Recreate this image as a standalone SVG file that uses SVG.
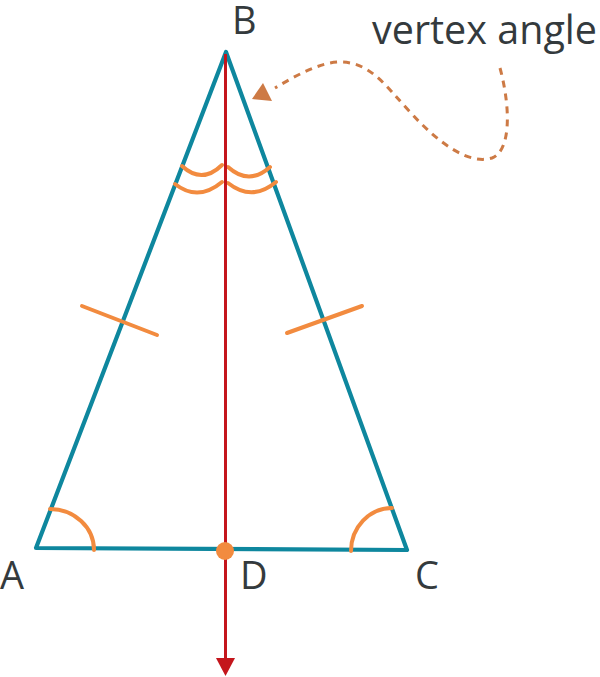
<svg xmlns="http://www.w3.org/2000/svg" width="600" height="677" viewBox="0 0 600 677">
<style>
.lbl{font-family:"Open Sans","Liberation Sans",sans-serif;font-size:38px;fill:#343a3d}
.side{fill:none;stroke:#0e879e;stroke-width:4.2;stroke-linejoin:round;stroke-linecap:round}
.mark{fill:none;stroke:#f28b3f;stroke-width:4;stroke-linecap:round}
</style>
<rect width="600" height="677" fill="#ffffff"/>
<g id="triangle">
<path class="side" d="M36,548 L226,52 L407,550 Z"/>
</g>
<g id="marks">
<line class="mark" x1="82" y1="306" x2="157" y2="335"/>
<line class="mark" x1="287" y1="333" x2="362" y2="306"/>
<path class="mark" d="M50,509 A44,41 0 0 1 94,550"/>
<path class="mark" d="M351,551 A41,43 0 0 1 392,508"/>
<path class="mark" d="M182,166 Q202,184.5 222,165"/>
<path class="mark" d="M228,167 Q249,186 270,167"/>
<path class="mark" d="M175,184 Q198,202 222,182"/>
<path class="mark" d="M228,183 Q252,202 276,182"/>
</g>
<g id="connectors">
<line x1="225.5" y1="54" x2="225.5" y2="660" stroke="#c4161c" stroke-width="3"/>
<polygon points="216,658 235,658 225.5,676" fill="#c4161c"/>
<path d="M500,68 C510,105 512,150 492,158 C470,165 440,145 410,112 C385,85 370,62 340,62 C320,62 295,76 275,88" fill="none" stroke="#cd7a45" stroke-width="3" stroke-dasharray="7,6"/>
<polygon points="252,99 263,83 272,101" fill="#cd7a45"/>
</g>
<g id="pointD">
<circle cx="225" cy="551" r="9" fill="#f28b3f"/>
</g>
<g id="labels">
<text class="lbl" x="232" y="34">B</text>
<text class="lbl" x="0" y="589">A</text>
<text class="lbl" x="240" y="589">D</text>
<text class="lbl" x="415" y="589">C</text>
<text class="lbl" x="597" y="44" text-anchor="end" style="font-size:39.5px">vertex angle</text>
</g>
</svg>
